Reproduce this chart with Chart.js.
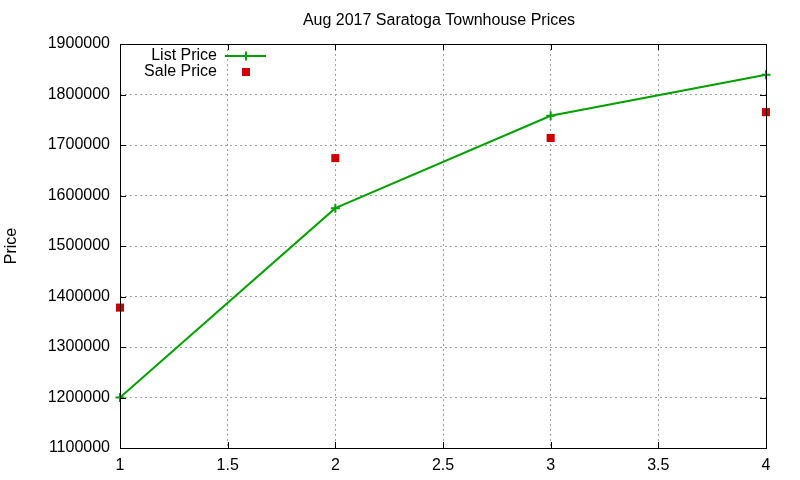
<!DOCTYPE html>
<html>
<head>
<meta charset="utf-8">
<script src="https://cdn.jsdelivr.net/npm/chart.js@4"></script>
<style>
  html, body { margin: 0; padding: 0; background: #fff; }
  #wrap { width: 800px; height: 480px; }
</style>
</head>
<body>
<div id="wrap"><canvas id="chart" width="800" height="480"></canvas></div>
<script>
const chartTitle = 'Aug 2017 Saratoga Townhouse Prices';
const houseIndex = [1, 2, 3, 4];
const listPrice = [1200000, 1575000, 1758000, 1839000];
const salePrice = [1378000, 1674000, 1714000, 1765000];

const FONT = '"Liberation Sans", Arial, sans-serif';
const FSIZE = 16;

// gnuplot-ish frame: black box, inward ticks on all four sides, title, key
const gnuplotFrame = {
    id: 'gnuplotFrame',
    afterDraw(chart) {
        const ctx = chart.ctx;
        const a = chart.chartArea;
        const xs = chart.scales.x, ys = chart.scales.y;
        ctx.save();
        ctx.strokeStyle = '#000';
        ctx.lineWidth = 1;
        ctx.strokeRect(a.left + 0.5, a.top + 0.5, a.right - a.left, a.bottom - a.top);

        ctx.beginPath();
        xs.ticks.forEach(t => {
            const px = Math.round(xs.getPixelForValue(t.value)) + 0.5;
            ctx.moveTo(px, a.bottom); ctx.lineTo(px, a.bottom - 6);
            ctx.moveTo(px, a.top); ctx.lineTo(px, a.top + 6);
        });
        ys.ticks.forEach(t => {
            const py = Math.round(ys.getPixelForValue(t.value)) + 0.5;
            ctx.moveTo(a.left, py); ctx.lineTo(a.left + 6, py);
            ctx.moveTo(a.right, py); ctx.lineTo(a.right - 6, py);
        });
        ctx.stroke();

        // title
        ctx.fillStyle = '#000';
        ctx.font = FSIZE + 'px ' + FONT;
        ctx.textAlign = 'center';
        ctx.textBaseline = 'middle';
        ctx.fillText(chartTitle, 439, 21);

        // key, text right aligned then sample
        const ds = chart.data.datasets;
        const keyY = [56, 72];
        ds.forEach((d, i) => {
            const y = keyY[i];
            ctx.fillStyle = '#000';
            ctx.textAlign = 'right';
            ctx.fillText(d.label, 217, y);
            if (d.showLine !== false) {
                ctx.strokeStyle = d.borderColor;
                ctx.lineWidth = 2;
                ctx.beginPath();
                ctx.moveTo(225, y); ctx.lineTo(266, y);
                ctx.stroke();
            }
            ctx.fillStyle = d.pointBackgroundColor;
            ctx.strokeStyle = d.pointBorderColor;
            ctx.lineWidth = d.pointBorderWidth;
            Chart.helpers.drawPoint(ctx, {
                pointStyle: d.pointStyle,
                radius: d.pointRadius,
                borderWidth: d.pointBorderWidth
            }, 246, y);
        });
        ctx.restore();
    }
};

new Chart(document.getElementById('chart'), {
    type: 'scatter',
    data: {
        datasets: [{
            label: 'List Price',
            data: houseIndex.map((x, i) => ({ x: x, y: listPrice[i] })),
            showLine: true,
            clip: false,
            borderColor: '#00a000',
            borderWidth: 2,
            pointStyle: 'cross',
            pointRadius: 4.5,
            pointBorderWidth: 2,
            pointBorderColor: '#00a000',
            pointBackgroundColor: '#00a000',
            tension: 0
        }, {
            label: 'Sale Price',
            data: houseIndex.map((x, i) => ({ x: x, y: salePrice[i] })),
            showLine: false,
            clip: false,
            pointStyle: 'rect',
            pointRadius: 5.7,
            pointBorderWidth: 0,
            pointBorderColor: '#cc0000',
            pointBackgroundColor: '#cc0000'
        }]
    },
    options: {
        responsive: false,
        animation: false,
        layout: { padding: { top: 44, right: 34, left: 0, bottom: 0 } },
        plugins: {
            legend: { display: false },
            title: { display: false },
            tooltip: { enabled: false }
        },
        scales: {
            x: {
                type: 'linear',
                min: 1,
                max: 4,
                afterFit: s => { s.height = 32; },
                ticks: {
                    stepSize: 0.5,
                    padding: 8,
                    color: '#000',
                    font: { family: FONT, size: FSIZE },
                    callback: v => String(v)
                },
                grid: { color: '#a0a0a0', lineWidth: 1, drawTicks: false },
                border: { display: false, dash: [2, 3] }
            },
            y: {
                min: 1100000,
                max: 1900000,
                afterFit: s => { s.width = 120; },
                ticks: {
                    stepSize: 100000,
                    padding: 10,
                    color: '#000',
                    font: { family: FONT, size: FSIZE },
                    callback: v => String(v)
                },
                title: {
                    display: true,
                    text: 'Price',
                    color: '#000',
                    padding: { top: 2 },
                    font: { family: FONT, size: FSIZE }
                },
                grid: { color: '#a0a0a0', lineWidth: 1, drawTicks: false },
                border: { display: false, dash: [2, 3] }
            }
        }
    },
    plugins: [gnuplotFrame]
});
</script>
</body>
</html>
